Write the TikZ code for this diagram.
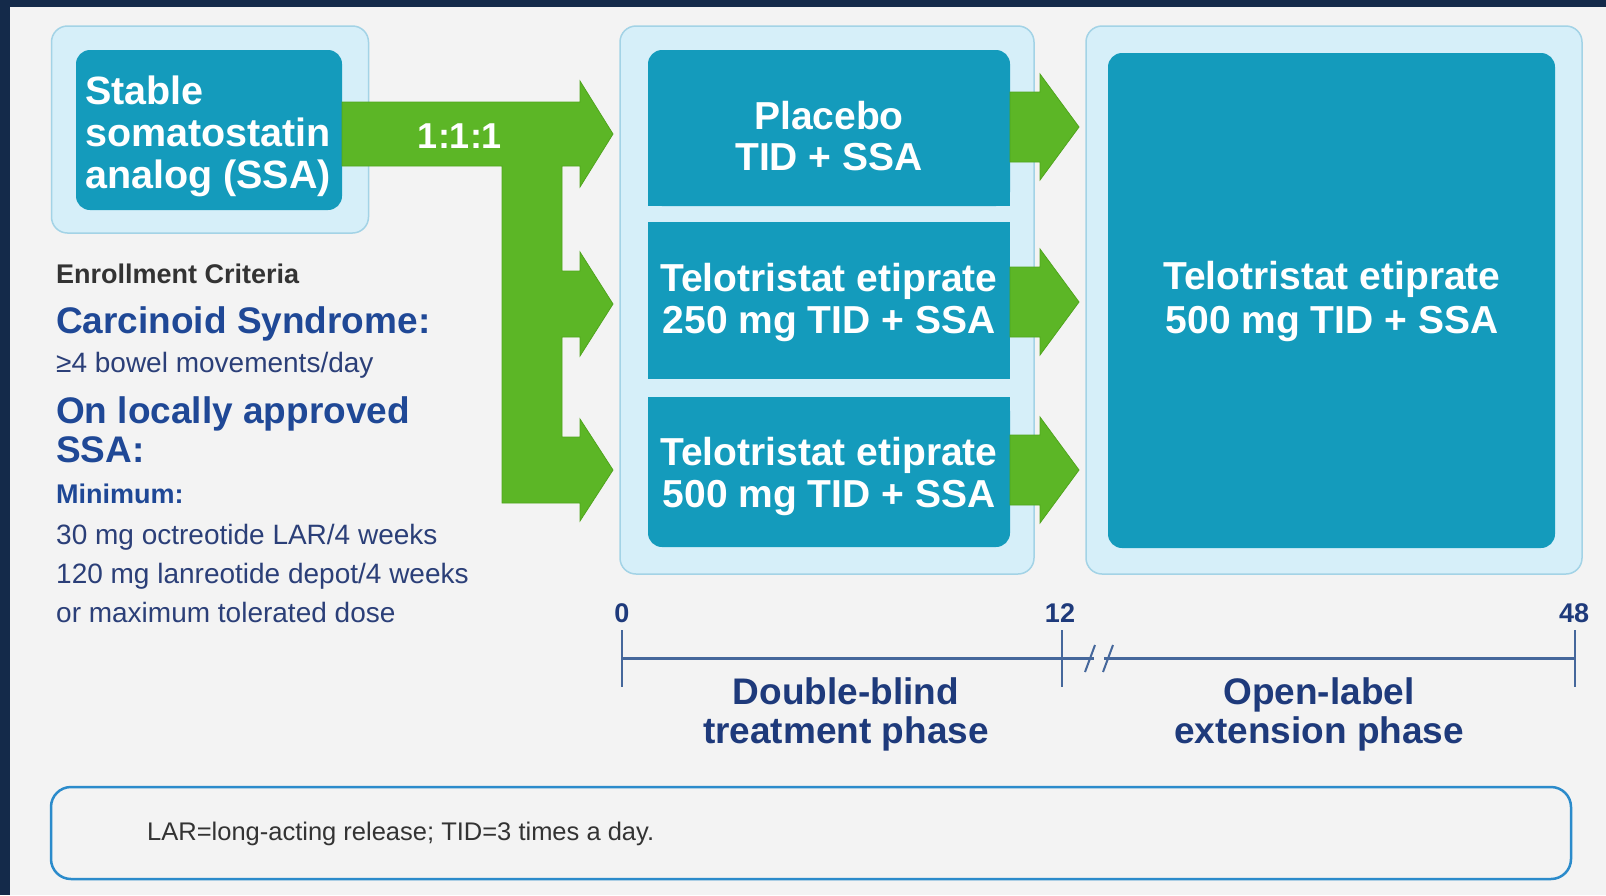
\documentclass[tikz,border=0pt]{standalone}
\usepackage{fontspec}
\setmainfont{Liberation Sans}
\definecolor{navyframe}{HTML}{142A4A}
\definecolor{bgc}{HTML}{F3F3F3}
\definecolor{lightfill}{HTML}{D6EFF9}
\definecolor{lightedge}{HTML}{A3D3E6}
\definecolor{tealc}{HTML}{149BBC}
\definecolor{greenc}{HTML}{5CB626}
\definecolor{greenedge}{HTML}{4FA51C}
\definecolor{headblue}{HTML}{1F4896}
\definecolor{bodyblue}{HTML}{2B3F78}
\definecolor{phaseblue}{HTML}{1E3A7B}
\definecolor{axisblue}{HTML}{45679B}
\definecolor{footblue}{HTML}{2B8BCB}
\definecolor{greytext}{HTML}{333333}
\newcommand{\fsz}[2]{\fontsize{#1}{#2}\selectfont}
\tikzset{
  outerbox/.style={draw=lightedge, line width=1.5pt, fill=lightfill, rounded corners=16pt, inner sep=0pt, outer sep=0pt},
  innerbox/.style={fill=tealc, rounded corners=14pt, inner sep=0pt, outer sep=0pt},
  squarebox/.style={fill=tealc, inner sep=0pt, outer sep=0pt},
  boxtext/.style={text=white, font=\fsz{39}{42}\bfseries, align=center, inner sep=0pt},
  lefttext/.style={anchor=base west, inner sep=0pt},
  arrowshape/.style={fill=greenc, draw=greenedge, line width=0.8pt, line join=miter},
  axisline/.style={draw=axisblue, line width=3pt},
  ticklabel/.style={anchor=base, inner sep=0pt, text=phaseblue, font=\fsz{27}{27}\bfseries},
  phase/.style={text=phaseblue, font=\fsz{37}{39}\bfseries, align=center, inner sep=0pt},
}
\begin{document}
\begin{tikzpicture}[x=1pt,y=-1pt]
\useasboundingbox (0,0) rectangle (1606,895);
\fill[bgc] (0,0) rectangle (1606,895);
\fill[navyframe] (0,0) rectangle (1606,7);
\fill[navyframe] (0,0) rectangle (10,895);

% outer light boxes
\node[outerbox, minimum width=317pt, minimum height=207pt] (ssaout) at (210,129.5) {};
\node[outerbox, minimum width=414pt, minimum height=548pt] (dbout) at (827,300) {};
\node[outerbox, minimum width=496pt, minimum height=548pt] (olout) at (1334,300) {};

% inner teal boxes
\node[innerbox, minimum width=266pt, minimum height=160pt] (ssain) at (209,130) {};
\node[innerbox, minimum width=362pt, minimum height=156pt] (pbox) at (829,128) {};
\fill[tealc] (pbox.west) rectangle (pbox.south east);
\node[squarebox, minimum width=362pt, minimum height=157pt] (mbox) at (829,300.5) {};
\node[innerbox, minimum width=362pt, minimum height=150pt] (bbox) at (829,472) {};
\fill[tealc] (bbox.north west) rectangle (bbox.east);
\node[innerbox, minimum width=447pt, minimum height=495pt] (rbox) at (1331.5,300.5) {};

% green arrows (left, randomisation)
\path[arrowshape] (342,102) -- (580,102) -- (580,81) -- (613,134) -- (580,187) -- (580,166)
  -- (562,166) -- (562,271) -- (580,271) -- (580,252) -- (613,304) -- (580,356) -- (580,337)
  -- (562,337) -- (562,437) -- (580,437) -- (580,419) -- (613,470) -- (580,521) -- (580,503)
  -- (502,503) -- (502,166) -- (342,166) -- cycle;
% green arrows (right)
\foreach \c in {127,302,470}{
  \path[arrowshape] (1010,\c-35) -- (1040,\c-35) -- (1040,\c-53) -- (1079,\c)
    -- (1040,\c+53) -- (1040,\c+35) -- (1010,\c+35) -- cycle;
}

% box texts
\node[text=white, font=\fsz{39.5}{42}\bfseries, align=left, inner sep=0pt, anchor=west] (ssatxt) at (85,136) {Stable\\somatostatin\\analog (SSA)};
\node[text=white, font=\fsz{36}{36}\bfseries, anchor=base, inner sep=0pt] (ratio) at (460,148) {1:1:1};
\node[boxtext, font=\fsz{39}{41}\bfseries] (ptxt) at (829,136) {Placebo\\TID + SSA};
\node[boxtext] (mtxt) at (829,302) {Telotristat etiprate\\250 mg TID + SSA};
\node[boxtext] (btxt) at (829,476) {Telotristat etiprate\\500 mg TID + SSA};
\node[boxtext, font=\fsz{39}{44}\bfseries] (rtxt) at (1332,301) {Telotristat etiprate\\500 mg TID + SSA};

% enrollment criteria
\node[lefttext, text=greytext, font=\fsz{27}{27}\bfseries] (enr) at (56,283) {Enrollment Criteria};
\node[lefttext, text=headblue, font=\fsz{37}{37}\bfseries] (cs) at (56,333) {Carcinoid Syndrome:};
\node[lefttext, text=bodyblue, font=\fsz{28}{28}] (bm) at (56,372) {≥4 bowel movements/day};
\node[lefttext, text=headblue, font=\fsz{37}{37}\bfseries] (ol1) at (56,423) {On locally approved};
\node[lefttext, text=headblue, font=\fsz{37}{37}\bfseries] (ol2) at (56,462) {SSA:};
\node[lefttext, text=headblue, font=\fsz{27}{27}\bfseries] (mini) at (56,503) {Minimum:};
\node[lefttext, text=bodyblue, font=\fsz{28}{28}] (oct) at (56,544) {30 mg octreotide LAR/4 weeks};
\node[lefttext, text=bodyblue, font=\fsz{28}{28}] (lan) at (56,583) {120 mg lanreotide depot/4 weeks};
\node[lefttext, text=bodyblue, font=\fsz{28}{28}] (mtd) at (56,622) {or maximum tolerated dose};

% timeline
\coordinate (t0) at (622,658);
\coordinate (t12) at (1062,658);
\coordinate (t48) at (1575,658);
\coordinate (br1) at (1094,658);
\coordinate (br2) at (1104,658);
\draw[axisline] (t0) -- (br1);
\draw[axisline] (br2) -- (t48);
\draw[axisline, line width=2.5pt] (622,630) -- (622,687);
\draw[axisline, line width=2.5pt] (1062,630) -- (1062,687);
\draw[axisline, line width=2.5pt] (1575,630) -- (1575,687);
\draw[axisblue, line width=2pt] (1085,672) -- (1095,645);
\draw[axisblue, line width=2pt] (1103,672) -- (1113,645);
\node[ticklabel] (l0) at (622,622) {0};
\node[ticklabel] (l12) at (1060,622) {12};
\node[ticklabel] (l48) at (1574,622) {48};
\node[phase] (dbl) at (846,714) {Double-blind\\treatment phase};
\node[phase] (oll) at (1319,714) {Open-label\\extension phase};

% footnote
\node[draw=footblue, line width=2.5pt, rounded corners=20pt, minimum width=1520pt, minimum height=92pt, inner sep=0pt] (foot) at (811,833) {};
\node[lefttext, text=greytext, font=\fsz{25.5}{25.5}] (foottxt) at (147,840) {LAR=long-acting release; TID=3 times a day.};
\end{tikzpicture}
\end{document}
